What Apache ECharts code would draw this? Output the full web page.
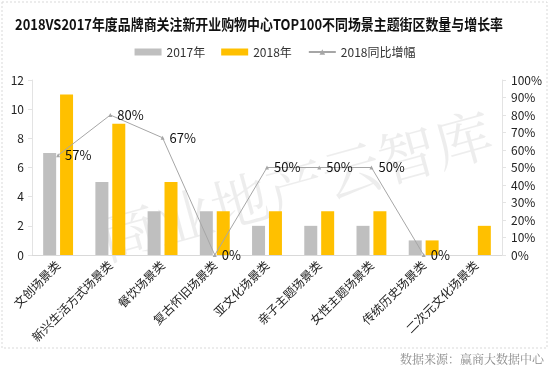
<!DOCTYPE html>
<html><head><meta charset="utf-8">
<script src="https://cdn.jsdelivr.net/npm/echarts@6/dist/echarts.min.js"></script>
<style>html,body{margin:0;padding:0;background:#fff}#c{width:550px;height:371px}</style>
</head><body><div id="c"></div>
<script>
const categories = ['文创场景类','新兴生活方式场景类','餐饮场景类','复古怀旧场景类','亚文化场景类','亲子主题场景类','女性主题场景类','传统历史场景类','二次元文化场景类'];
const values2017 = [7,5,3,3,2,2,2,1,0];
const values2018 = [11,9,5,3,3,3,3,1,2];
const growth2018 = [57,80,67,0,50,50,50,0,null];
const leftTicks = [0,2,4,6,8,10,12];
const rightTicks = [0,10,20,30,40,50,60,70,80,90,100];
const titleText = '2018VS2017年度品牌商关注新开业购物中心TOP100不同场景主题街区数量与增长率';

const font = '"Microsoft YaHei","Noto Sans CJK SC",sans-serif';
const titleFont = 'bold 15px "Noto Sans CJK SC"';
const cv = document.createElement('canvas').getContext('2d');
cv.font = titleFont;
const titleW = cv.measureText(titleText).width;
const titleScale = 488 / titleW;

const chart = echarts.init(document.getElementById('c'));
chart.setOption({
  animation:false,
  textStyle:{fontFamily:font},
  legend:{top:41,left:'center',itemWidth:27,itemHeight:7,itemGap:16,
    textStyle:{fontSize:12,color:'#333',fontFamily:font},
    data:[{name:'2017年',icon:'rect'},{name:'2018年',icon:'rect'},{name:'2018同比增幅'}]},
  graphic:[
    {type:'rect',shape:{x:2,y:2,width:545,height:346},style:{fill:'none',stroke:'#d9d9d9',lineDash:[2,2],lineWidth:1},z:-1},
    {type:'text',x:15,y:24,scaleX:titleScale,style:{text:titleText,font:titleFont,fill:'#111',verticalAlign:'middle',textAlign:'left'}},
    {type:'text',right:6,bottom:6,style:{text:'数据来源：赢商大数据中心',fontSize:12,fill:'#8c8c8c',fontFamily:'"Noto Serif CJK SC","Noto Sans CJK SC",serif'}},
    {type:'text',x:92,y:212,rotation:0.27,style:{text:'商业地产云智库',fontSize:58,fill:'rgba(0,0,0,0.07)',fontFamily:'"Noto Serif CJK SC","Noto Sans CJK SC",serif'},z:-2}
  ],
  grid:{left:32,right:48,top:80,bottom:116},
  xAxis:{type:'category',data:categories,
    axisLine:{lineStyle:{color:'#d9d9d9'}},axisTick:{show:false},
    axisLabel:{rotate:45,fontSize:12,color:'#222',interval:0,margin:8,fontFamily:font}},
  yAxis:[
    {type:'value',min:0,max:12,interval:2,
      axisLine:{show:true,lineStyle:{color:'#e3e3e3'}},axisTick:{show:true,inside:false,length:4,lineStyle:{color:'#e3e3e3'}},
      splitLine:{show:false},
      axisLabel:{fontSize:12,color:'#222',margin:8,formatter:v=>leftTicks.includes(v)?String(v):''}},
    {type:'value',min:0,max:100,interval:10,
      axisLine:{show:true,lineStyle:{color:'#e3e3e3'}},axisTick:{show:true,length:4,lineStyle:{color:'#e3e3e3'}},
      splitLine:{show:false},
      axisLabel:{fontSize:12,color:'#222',margin:9,formatter:v=>rightTicks.includes(v)?v+'%':''}}
  ],
  series:[
    {name:'2017年',type:'bar',data:values2017,barWidth:13,barGap:'30%',itemStyle:{color:'#bfbfbf'}},
    {name:'2018年',type:'bar',data:values2018,barWidth:13,itemStyle:{color:'#ffc000'}},
    {name:'2018同比增幅',type:'line',yAxisIndex:1,data:growth2018,
      symbol:'triangle',symbolSize:4,showAllSymbol:true,
      lineStyle:{color:'#a6a6a6',width:1},itemStyle:{color:'#a6a6a6'},
      label:{show:true,position:'right',distance:5,fontSize:13,color:'#111',formatter:p=>p.value==null?'':p.value+'%'}}
  ]
});
</script></body></html>
